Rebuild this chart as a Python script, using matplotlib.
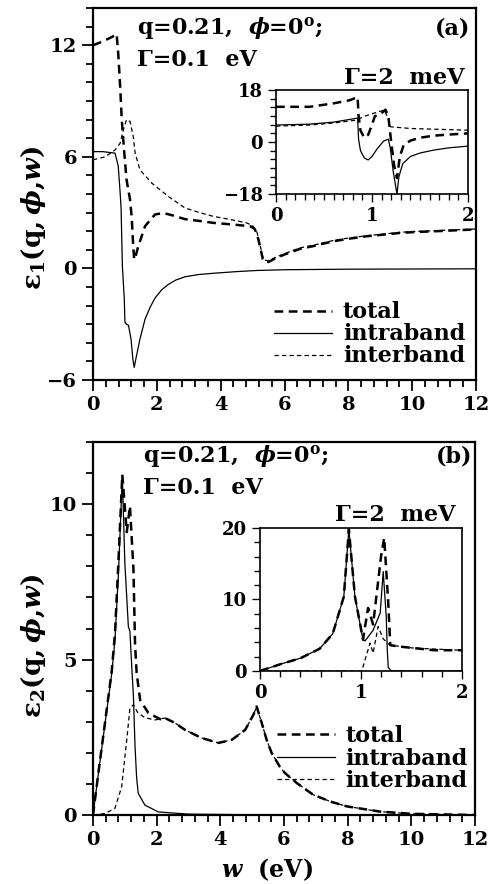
import numpy as np
import matplotlib
matplotlib.use("Agg")
from matplotlib import pyplot as plt
from matplotlib.ticker import MultipleLocator

plt.rcParams['font.family'] = ['DejaVu Serif']
plt.rcParams['font.weight'] = 'bold'
plt.rcParams['mathtext.fontset'] = 'dejavuserif'

# ---- panel (a): eps1, Gamma = 0.1 eV ----
a_tot_x = [0, 0.3, 0.6, 0.74, 0.79, 0.85, 0.9, 0.98, 1.05, 1.16, 1.21, 1.26, 1.29, 1.34, 1.42, 1.63,
           1.94, 2.2, 2.5, 2.88, 3.35, 3.77, 4.39, 4.92, 5.05, 5.13, 5.23, 5.32, 5.39, 5.5, 5.64, 6.0,
           6.48, 6.9, 7.52, 7.95, 8.57, 9.0, 9.62, 10.0, 11.0, 12.0]
a_tot_y = [12.0, 12.2, 12.45, 12.6, 11.55, 9.8, 8.0, 6.2, 4.77, 3.7, 2.8, 1.2, 0.48, 0.7, 1.2, 2.27,
           2.9, 2.98, 2.85, 2.65, 2.55, 2.45, 2.36, 2.27, 2.15, 1.9, 1.2, 0.5, 0.35, 0.35, 0.48, 0.75,
           1.05, 1.2, 1.46, 1.58, 1.73, 1.8, 1.91, 1.95, 2.02, 2.1]
a_intra_x = [0, 0.3, 0.69, 0.79, 0.85, 0.88, 0.92, 0.98, 1.0, 1.05, 1.11, 1.19, 1.25, 1.29, 1.35, 1.47,
             1.63, 1.8, 1.94, 2.15, 2.36, 2.6, 2.88, 3.3, 3.77, 4.5, 5.13, 6.0, 8.0, 12.0]
a_intra_y = [6.28, 6.28, 6.2, 5.5, 4.07, 3.2, 0.12, -1.66, -2.9, -3.0, -3.05, -3.8, -4.9, -5.32, -4.8, -3.8,
             -2.73, -2.05, -1.6, -1.15, -0.86, -0.62, -0.45, -0.33, -0.26, -0.17, -0.11, -0.07, -0.04, -0.02]
a_inter_x = [0, 0.38, 0.69, 0.85, 0.95, 1.05, 1.16, 1.26, 1.32, 1.47, 1.84, 2.36, 2.88, 3.35, 3.77,
             4.39, 4.81, 5.0, 5.13, 5.23, 5.32, 5.39, 5.5, 5.64, 6.0, 6.48, 6.9, 7.52, 7.95, 8.57, 9.0,
             9.62, 10.0, 11.0, 12.0]
a_inter_y = [5.84, 6.0, 6.37, 6.73, 7.45, 8.0, 7.9, 7.1, 6.2, 5.3, 4.59, 3.87, 3.25, 3.0, 2.8,
             2.6, 2.45, 2.3, 2.0, 1.3, 0.6, 0.45, 0.4, 0.53, 0.8, 1.1, 1.25, 1.5, 1.62, 1.76, 1.83,
             1.94, 1.98, 2.05, 2.12]

# inset (a): Gamma = 2 meV
ai_tot_x = [0, 0.35, 0.6, 0.77, 0.85, 0.86, 0.88, 0.92, 0.96, 1.0, 1.03, 1.08, 1.14, 1.17, 1.2, 1.23,
            1.26, 1.29, 1.33, 1.4, 1.5, 1.64, 1.8, 2.0]
ai_tot_y = [12.2, 12.2, 13.4, 14.5, 15.6, 9.0, 4.0, 1.5, 2.5, 6.0, 9.0, 9.5, 11.2, 9.0, 0.0, -8.0,
            -12.5, -5.0, -1.0, 0.5, 1.5, 2.2, 2.6, 3.0]
ai_intra_x = [0, 0.35, 0.6, 0.85, 0.86, 0.88, 0.92, 0.96, 1.0, 1.05, 1.12, 1.17, 1.19, 1.22, 1.26, 1.28,
              1.32, 1.4, 1.5, 1.64, 1.8, 2.0]
ai_intra_y = [5.9, 6.2, 6.9, 8.3, 1.0, -3.0, -5.5, -6.2, -5.0, -2.5, 0.3, 1.0, -2.0, -10.0, -18.0, -12.0,
              -7.5, -5.0, -3.8, -2.8, -2.0, -1.4]
ai_inter_x = [0, 0.35, 0.6, 0.84, 0.91, 1.01, 1.13, 1.17, 1.19, 1.26, 1.4, 2.0]
ai_inter_y = [5.5, 5.9, 6.6, 7.6, 8.8, 9.9, 11.1, 8.0, 5.3, 5.1, 4.7, 4.1]

# ---- panel (b): eps2, Gamma = 0.1 eV ----
b_intra_x = [0, 0.17, 0.38, 0.59, 0.69, 0.8, 0.92, 1.0, 1.11, 1.16, 1.21, 1.27, 1.32, 1.37, 1.42, 1.63,
             2.05, 3.0, 5.0, 12.0]
b_intra_y = [0.0, 1.35, 2.96, 4.57, 5.65, 7.8, 10.91, 8.1, 6.07, 5.9, 4.9, 3.8, 2.2, 1.2, 0.7, 0.32,
             0.1, 0.03, 0.01, 0.0]
b_inter_x = [0, 0.38, 0.69, 0.9, 1.06, 1.16, 1.27, 1.4, 1.63, 1.95, 2.26, 2.58, 2.89, 3.41, 3.94,
             4.36, 4.78, 5.04, 5.14, 5.3, 5.46, 5.61, 5.87, 6.03, 6.4, 6.92, 7.5, 7.97, 9.02, 10.0, 12.0]
b_inter_y = [0.0, 0.05, 0.22, 0.91, 2.42, 3.44, 3.55, 3.3, 3.13, 3.06, 3.12, 2.96, 2.74, 2.48, 2.32,
             2.42, 2.74, 3.23, 3.49, 2.96, 2.4, 2.0, 1.55, 1.35, 1.03, 0.65, 0.42, 0.28, 0.11, 0.04, 0.0]
b_tot_x = [0, 0.17, 0.38, 0.59, 0.69, 0.8, 0.92, 1.06, 1.16, 1.27, 1.32, 1.37, 1.48, 1.74, 2.16,
           2.26, 2.58, 2.89, 3.41, 3.94, 4.36, 4.78, 5.04, 5.14, 5.3, 5.46, 5.61, 5.87, 6.03, 6.4,
           6.92, 7.5, 7.97, 9.02, 10.0, 12.0]
b_tot_y = [0.0, 1.37, 3.0, 4.65, 5.85, 8.2, 10.95, 9.1, 9.94, 7.9, 5.5, 4.57, 3.7, 3.28, 3.06,
           3.12, 2.96, 2.74, 2.48, 2.32, 2.42, 2.74, 3.23, 3.49, 2.96, 2.4, 2.0, 1.55, 1.35, 1.03,
           0.65, 0.42, 0.28, 0.11, 0.04, 0.0]

# inset (b): Gamma = 2 meV
bi_intra_x = [0, 0.23, 0.4, 0.59, 0.72, 0.83, 0.88, 0.94, 1.02, 1.04, 1.12, 1.19, 1.22, 1.25, 1.26,
              1.27, 1.3, 2.0]
bi_intra_y = [0.0, 1.07, 1.78, 3.1, 5.2, 10.4, 19.8, 10.4, 4.3, 4.2, 5.7, 8.1, 13.9, 7.6, 3.0,
              0.5, 0.0, 0.0]
bi_inter_x = [0, 1.0, 1.01, 1.06, 1.09, 1.12, 1.17, 1.22, 1.27, 1.29, 1.52, 1.98]
bi_inter_y = [0.0, 0.0, 0.1, 2.5, 3.9, 2.5, 6.2, 4.5, 3.8, 3.6, 3.2, 2.9]
bi_tot_x = [0, 0.23, 0.4, 0.59, 0.72, 0.83, 0.88, 0.94, 1.02, 1.07, 1.12, 1.2, 1.23, 1.27, 1.29,
            1.39, 1.52, 1.72, 2.0]
bi_tot_y = [0.0, 1.07, 1.78, 3.1, 5.2, 10.4, 19.8, 10.4, 4.4, 8.8, 6.5, 16.2, 18.6, 9.5, 3.6,
            3.4, 3.2, 2.9, 2.9]

TOT = dict(color='black', lw=1.8, ls=(0, (3.5, 2.2)))
INTRA = dict(color='black', lw=0.9, ls='-')
INTER = dict(color='black', lw=0.9, ls=(0, (3.5, 2.5)))


def style(ax, lw=1.6, fs=14, big=8, small=5):
    for s in ax.spines.values():
        s.set_linewidth(lw)
    ax.tick_params(which='both', direction='out', top=False, right=False,
                   width=lw * 0.8, labelsize=fs)
    ax.tick_params(which='major', length=big)
    ax.tick_params(which='minor', length=small)
    for lab in ax.get_xticklabels() + ax.get_yticklabels():
        lab.set_fontweight('bold')


fig = plt.figure(figsize=(4.94, 8.84), dpi=100)
FS = 16

# panel (a)
ax1 = fig.add_axes([0.1883, 0.5701, 0.7753, 0.4208])
ax1.plot(a_tot_x, a_tot_y, label='total', **TOT)
ax1.plot(a_intra_x, a_intra_y, label='intraband', **INTRA)
ax1.plot(a_inter_x, a_inter_y, label='interband', **INTER)
ax1.set_xlim(0, 12)
ax1.set_ylim(-6, 14)
ax1.set_xticks([0, 2, 4, 6, 8, 10, 12])
ax1.set_yticks([-6, 0, 6, 12])
ax1.set_yticklabels(['\u22126', '0', '6', '12'])
ax1.xaxis.set_minor_locator(MultipleLocator(0.4))
ax1.yaxis.set_minor_locator(MultipleLocator(1))
style(ax1)
ax1.text(0.115, 0.946, 'q=0.21,  $\\phi$=0$^{\\rm o}$;', transform=ax1.transAxes, fontsize=FS,
         fontweight='bold', va='center')
ax1.text(0.115, 0.860, '\u0393=0.1  eV', transform=ax1.transAxes, fontsize=FS,
         fontweight='bold', va='center')
ax1.text(0.984, 0.946, '(a)', transform=ax1.transAxes, fontsize=FS,
         fontweight='bold', va='center', ha='right')
ax1.text(0.971, 0.812, '\u0393=2  meV', transform=ax1.transAxes, fontsize=FS,
         fontweight='bold', va='center', ha='right')
ax1.legend(loc='lower right', bbox_to_anchor=(1.012, -0.008), frameon=False, fontsize=FS,
           handlelength=2.6, handletextpad=0.5, labelspacing=0.0, borderpad=0.2)

ins1 = fig.add_axes([0.5587, 0.7805, 0.3887, 0.1176])
ins1.plot(ai_tot_x, ai_tot_y, **TOT)
ins1.plot(ai_intra_x, ai_intra_y, **INTRA)
ins1.plot(ai_inter_x, ai_inter_y, **INTER)
ins1.set_xlim(0, 2)
ins1.set_ylim(-18, 18)
ins1.set_xticks([0, 1, 2])
ins1.set_yticks([-18, 0, 18])
ins1.set_yticklabels(['\u221218', '0', '18'])
ins1.xaxis.set_minor_locator(MultipleLocator(0.1))
ins1.yaxis.set_minor_locator(MultipleLocator(3))
style(ins1, lw=1.2, fs=13, big=6, small=4)

# panel (b)
ax2 = fig.add_axes([0.1883, 0.078, 0.7733, 0.422])
ax2.plot(b_tot_x, b_tot_y, label='total', **TOT)
ax2.plot(b_intra_x, b_intra_y, label='intraband', **INTRA)
ax2.plot(b_inter_x, b_inter_y, label='interband', **INTER)
ax2.set_xlim(0, 12)
ax2.set_ylim(0, 12)
ax2.set_xticks([0, 2, 4, 6, 8, 10, 12])
ax2.set_yticks([0, 5, 10])
ax2.xaxis.set_minor_locator(MultipleLocator(0.4))
ax2.yaxis.set_minor_locator(MultipleLocator(1))
style(ax2)
ax2.text(0.131, 0.960, 'q=0.21,  $\\phi$=0$^{\\rm o}$;', transform=ax2.transAxes, fontsize=FS,
         fontweight='bold', va='center')
ax2.text(0.131, 0.877, '\u0393=0.1  eV', transform=ax2.transAxes, fontsize=FS,
         fontweight='bold', va='center')
ax2.text(0.992, 0.960, '(b)', transform=ax2.transAxes, fontsize=FS,
         fontweight='bold', va='center', ha='right')
ax2.text(0.948, 0.804, '\u0393=2  meV', transform=ax2.transAxes, fontsize=FS,
         fontweight='bold', va='center', ha='right')
ax2.legend(loc='lower right', bbox_to_anchor=(1.022, 0.02), frameon=False, fontsize=FS,
           handlelength=2.6, handletextpad=0.5, labelspacing=0.02, borderpad=0.2)

ins2 = fig.add_axes([0.5263, 0.2410, 0.4089, 0.1618])
ins2.plot(bi_tot_x, bi_tot_y, **TOT)
ins2.plot(bi_intra_x, bi_intra_y, **INTRA)
ins2.plot(bi_inter_x, bi_inter_y, **INTER)
ins2.set_xlim(0, 2)
ins2.set_ylim(0, 20)
ins2.set_xticks([0, 1, 2])
ins2.set_yticks([0, 10, 20])
ins2.xaxis.set_minor_locator(MultipleLocator(0.2))
ins2.yaxis.set_minor_locator(MultipleLocator(2))
style(ins2, lw=1.2, fs=13, big=6, small=4)

fig.text(0.067, 0.754, '$\\mathbf{\\epsilon_1(q,}\\mathit{\\phi}\\mathbf{,}\\mathit{w}\\mathbf{)}$',
         rotation=90, fontsize=19, ha='center', va='center')
fig.text(0.067, 0.269, '$\\mathbf{\\epsilon_2(q,}\\mathit{\\phi}\\mathbf{,}\\mathit{w}\\mathbf{)}$',
         rotation=90, fontsize=19, ha='center', va='center')
fig.text(0.54, 0.016, '$\\mathit{w}$  (eV)', fontsize=17, fontweight='bold', ha='center', va='center')

fig.savefig('out.png', dpi=100)
